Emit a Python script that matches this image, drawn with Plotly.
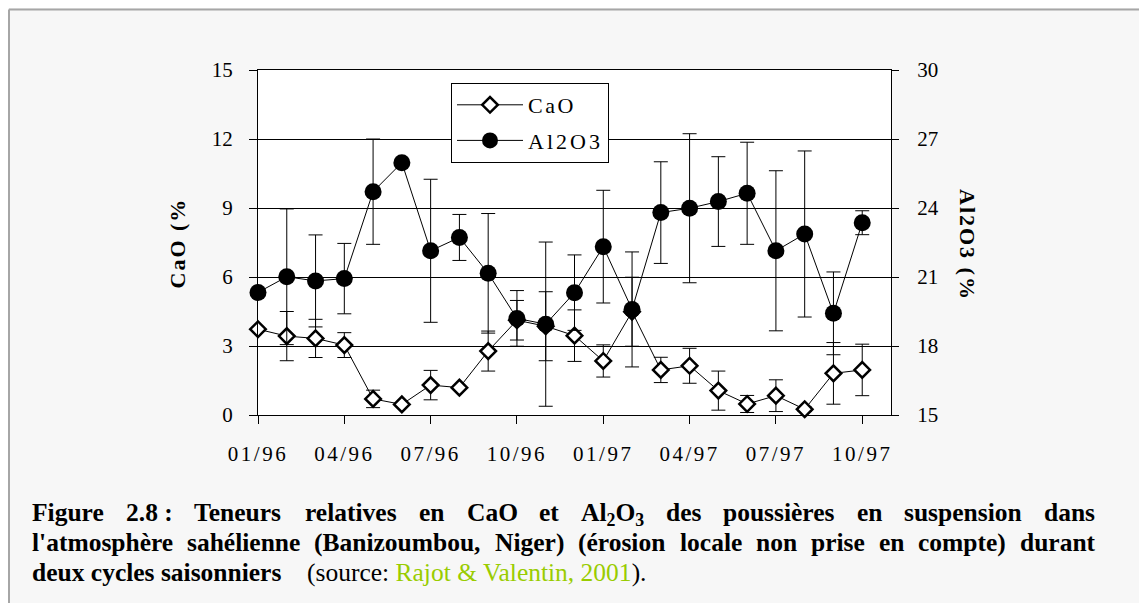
import plotly.graph_objects as go

# ---------------- data ----------------
months = ["01/96", "02/96", "03/96", "04/96", "05/96", "06/96", "07/96", "08/96",
          "09/96", "10/96", "11/96", "12/96", "01/97", "02/97", "03/97", "04/97",
          "05/97", "06/97", "07/97", "08/97", "09/97", "10/97"]
tick_labels = ["01/96", "04/96", "07/96", "10/96", "01/97", "04/97", "07/97", "10/97"]

cao = [3.73, 3.43, 3.33, 3.04, 0.70, 0.46, 1.30, 1.19, 2.78, 4.12, 3.86,
       3.45, 2.35, 4.49, 1.96, 2.14, 1.06, 0.48, 0.84, 0.25, 1.81, 1.96]
cao_err = [0.0, 1.07, 0.83, 0.54, 0.38, 0.05, 0.64, 0.05, 0.87, 0.86, 1.50,
           1.12, 0.70, 1.50, 0.55, 0.76, 0.85, 0.37, 0.69, 0.10, 1.34, 1.12]

al2o3 = [20.33, 21.01, 20.83, 20.93, 24.71, 25.97, 22.14, 22.72, 21.16, 19.20, 18.95,
         20.32, 22.32, 19.59, 23.80, 23.99, 24.28, 24.64, 22.14, 22.87, 19.42, 23.36]
al2o3_err = [0.0, 2.95, 2.00, 1.53, 2.29, 0.12, 3.11, 1.00, 2.60, 1.21, 3.57,
             1.64, 2.45, 2.50, 2.21, 3.24, 1.95, 2.22, 3.48, 3.61, 1.80, 0.52]

left_ticks = [0, 3, 6, 9, 12, 15]
right_ticks = [15, 18, 21, 24, 27, 30]

caption_line1 = ["Figure", "2.8\u00a0:", "Teneurs", "relatives", "en", "CaO", "et",
                 "Al<sub>2</sub>O<sub>3</sub>", "des", "poussières", "en",
                 "suspension", "dans"]
caption_line2 = ["l'atmosphère", "sahélienne", "(Banizoumbou,", "Niger)", "(érosion",
                 "locale", "non", "prise", "en", "compte)", "durant"]
caption_line3_bold = "deux cycles saisonniers"
caption_source = "Rajot &amp; Valentin, 2001"

# ---------------- layout geometry (screen pixels; page body adds an 8px offset) ----------------
W, H = 1147, 603
OFF = 8
L, R, T, B = 258, 891, 70, 415
SERIF = "Liberation Serif, Times New Roman, serif"


def px(x):
    return (x - L) / (R - L)


def py(y):
    return (B - y) / (B - T)


def spaced(s, sp):
    return "<span style='letter-spacing:%spx'>%s</span>" % (sp, s)


# Times-Bold advance widths (per 1000 em) for caption justification
TB = {" ": 250, "\u00a0": 250, "'": 278, "(": 333, ")": 333, ",": 250, ".": 250, ":": 333,
      "2": 500, "3": 500, "8": 500, "A": 722, "B": 667, "C": 722, "F": 611,
      "N": 722, "O": 778, "T": 667, "a": 500, "b": 556, "c": 444, "d": 556,
      "e": 444, "f": 333, "g": 500, "h": 556, "i": 278, "l": 278, "m": 833,
      "n": 556, "o": 500, "p": 556, "r": 444, "s": 389, "t": 333, "u": 556,
      "v": 500, "z": 444, "è": 444, "é": 444}


def word_width(w, fs):
    total = 0.0
    i = 0
    sub = False
    while i < len(w):
        if w.startswith("<sub>", i):
            sub = True
            i += 5
            continue
        if w.startswith("</sub>", i):
            sub = False
            i += 6
            continue
        total += TB.get(w[i], 500) * (0.7 if sub else 1.0)
        i += 1
    return total * fs / 1000.0


fig = go.Figure()

fig.add_trace(go.Scatter(
    x=months, y=cao, name=spaced("CaO", 2.5), mode="lines+markers", legendgroup="a",
    cliponaxis=False,
    line=dict(color="black", width=1),
    marker=dict(symbol="diamond", size=12, color="white",
                line=dict(color="black", width=2.5)),
    error_y=dict(type="data", array=cao_err, color="black", thickness=1, width=7),
))
fig.add_trace(go.Scatter(
    x=months, y=al2o3, name=spaced("Al2O3", 3), mode="lines+markers", legendgroup="b",
    yaxis="y2", cliponaxis=False,
    line=dict(color="black", width=1),
    marker=dict(symbol="circle", size=17, color="black"),
    error_y=dict(type="data", array=al2o3_err, color="black", thickness=1, width=7),
))

annotations = [
    dict(text="<b>" + spaced("CaO (%", 2) + "</b>", x=px(177.5), y=py(243),
         xref="paper", yref="paper", xanchor="center", yanchor="middle",
         showarrow=False, textangle=-90, font=dict(family=SERIF, size=22, color="black")),
    dict(text="<b>" + spaced("Al2O3 (%", 2) + "</b>", x=px(967.5), y=py(244.5),
         xref="paper", yref="paper", xanchor="center", yanchor="middle",
         showarrow=False, textangle=90, font=dict(family=SERIF, size=22, color="black")),
]

# justified caption lines (word by word); y values are text-box tops
FS = 25.5
X0, X1 = 30.5, 1094
TOPS = [497, 527, 557]
for words, ytop in ((caption_line1, TOPS[0]), (caption_line2, TOPS[1])):
    widths = [word_width(w, FS) for w in words]
    gap = (X1 - X0 - sum(widths)) / (len(words) - 1)
    xcur = X0
    for w, wd in zip(words, widths):
        annotations.append(dict(
            text="<b>" + w + "</b>", x=px(xcur), y=py(ytop), xref="paper", yref="paper",
            xanchor="left", yanchor="top", showarrow=False, borderpad=0,
            font=dict(family=SERIF, size=FS, color="black")))
        xcur += wd + gap

annotations.append(dict(
    text="<b>" + caption_line3_bold + "</b>",
    x=px(X0), y=py(TOPS[2]), xref="paper", yref="paper", xanchor="left", yanchor="top",
    showarrow=False, borderpad=0, font=dict(family=SERIF, size=FS, color="black")))
annotations.append(dict(
    text="(source: <span style='color:#99cc00'>" + caption_source + "</span>).",
    x=px(306), y=py(TOPS[2]), xref="paper", yref="paper", xanchor="left", yanchor="top",
    showarrow=False, borderpad=0, font=dict(family=SERIF, size=FS, color="black")))

shapes = [
    dict(type="line", xref="paper", yref="paper", x0=px(9), x1=px(1200),
         y0=py(9.5), y1=py(9.5), line=dict(color="#a6a6a6", width=2)),
    dict(type="line", xref="paper", yref="paper", x0=px(9), x1=px(9),
         y0=py(9.5), y1=py(650), line=dict(color="#a6a6a6", width=2)),
]

tickfont = dict(family=SERIF, size=21, color="black")

fig.update_layout(
    width=W, height=H,
    margin=dict(l=L - OFF, r=W - (R - OFF), t=T - OFF, b=H - (B - OFF), autoexpand=False),
    paper_bgcolor="#f7f7f7", plot_bgcolor="white",
    showlegend=True,
    legend=dict(x=px(451), y=py(83), xanchor="left", yanchor="top",
                bgcolor="white", bordercolor="black", borderwidth=1,
                font=dict(family=SERIF, size=22, color="black"),
                tracegroupgap=4, itemwidth=66),
    xaxis=dict(type="category", categoryorder="array", categoryarray=months,
               range=[0, 22], tickmode="array", tickvals=tick_labels,
               ticktext=[spaced(t, 2.5) for t in tick_labels],
               ticks="outside", ticklen=8, tickcolor="black", tickwidth=1,
               showline=True, linecolor="black", linewidth=1, mirror=True,
               showgrid=False, zeroline=False, tickfont=tickfont, ticklabelstandoff=12),
    yaxis=dict(range=[0, 15], tickmode="array", tickvals=left_ticks,
               ticks="outside", ticklen=8, tickcolor="black", tickwidth=1,
               showline=True, linecolor="black", linewidth=1,
               showgrid=True, gridcolor="black", gridwidth=1, zeroline=False,
               tickfont=tickfont, ticklabelstandoff=12),
    yaxis2=dict(range=[15, 30], tickmode="array", tickvals=right_ticks,
                overlaying="y", side="right",
                ticks="outside", ticklen=7, tickcolor="black", tickwidth=1,
                showline=True, linecolor="black", linewidth=1,
                showgrid=False, zeroline=False, tickfont=tickfont, ticklabelstandoff=14),
    annotations=annotations,
    shapes=shapes,
)

fig.write_html("out.html")
